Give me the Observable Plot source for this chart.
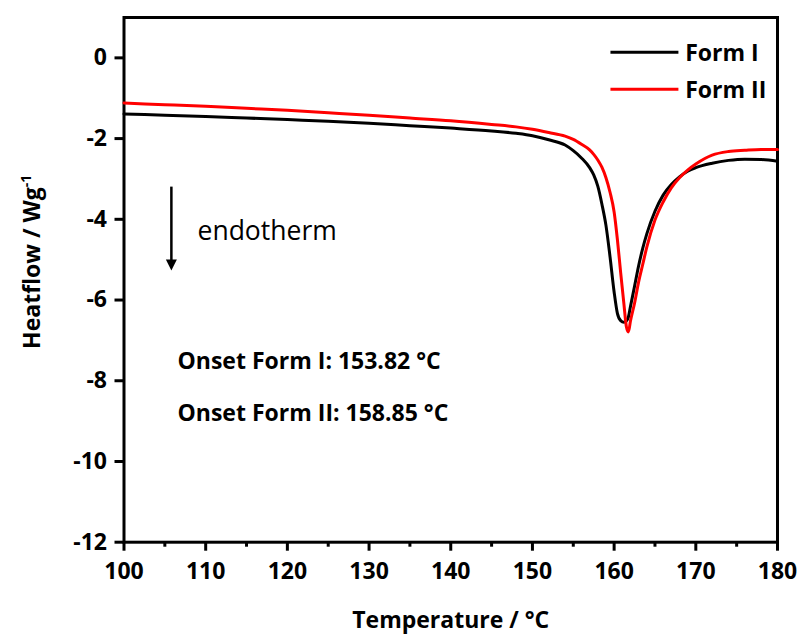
<!DOCTYPE html>
<html><head><meta charset="utf-8">
<script src="https://cdn.jsdelivr.net/npm/d3@7"></script>
<script src="https://cdn.jsdelivr.net/npm/@observablehq/plot@0.6"></script>
<style>body{margin:0;background:#fff}</style>
</head><body><div id="chart"></div>
<script>
const temperature = [100,105,110,115,120,125,130,135,140,145,148,150,152,154,155,156,157,157.5,158,158.5,159,159.5,160,160.4,160.8,161.2,161.5,161.75,162,162.5,163,163.5,164,165,166,167,168,169,170,172,174,176,178,180];
const heatflowFormI = [-1.39,-1.42,-1.45,-1.49,-1.53,-1.57,-1.62,-1.68,-1.74,-1.81,-1.87,-1.93,-2.03,-2.16,-2.30,-2.48,-2.72,-2.90,-3.18,-3.62,-4.15,-4.93,-5.80,-6.33,-6.51,-6.55,-6.52,-6.42,-6.16,-5.66,-5.15,-4.72,-4.36,-3.80,-3.40,-3.14,-2.95,-2.81,-2.72,-2.61,-2.54,-2.51,-2.52,-2.56];
const heatflowFormII = [-1.12,-1.16,-1.20,-1.25,-1.30,-1.36,-1.42,-1.49,-1.56,-1.65,-1.71,-1.77,-1.85,-1.94,-2.02,-2.14,-2.28,-2.39,-2.53,-2.71,-2.97,-3.33,-3.82,-4.50,-5.32,-6.10,-6.66,-6.79,-6.52,-6.08,-5.55,-5.12,-4.69,-4.02,-3.57,-3.22,-2.97,-2.78,-2.63,-2.41,-2.32,-2.29,-2.27,-2.27];
const seriesNames = ["Form I", "Form II"];
const seriesColors = ["#000000", "#ff0000"];
const xTicks = [100,110,120,130,140,150,160,170,180];
const xMinorTicks = [105,115,125,135,145,155,165,175];
const yTicks = [-12,-10,-8,-6,-4,-2,0];
const onsetLabels = ["Onset Form I: 153.82 °C", "Onset Form II: 158.85 °C"];
const annotationText = ["endotherm"];
const xTitle = ["Temperature / °C"];
const yTitle = ["Heatflow / Wg"];

const rows = temperature.flatMap((t, i) => [
  {t, v: heatflowFormI[i], s: seriesNames[0]},
  {t, v: heatflowFormII[i], s: seriesNames[1]}
]);

const downTriangle = {
  draw(ctx) {
    ctx.moveTo(0, 0);
    ctx.lineTo(-5.5, -11);
    ctx.lineTo(5.5, -11);
    ctx.closePath();
  }
};

const chart = Plot.plot({
  width: 802,
  height: 636,
  marginLeft: 123.5,
  marginRight: 25,
  marginTop: 17,
  marginBottom: 94.3,
  style: {fontFamily: "'Open Sans', sans-serif", fontSize: "23px", fontWeight: "bold", background: "white", color: "black"},
  x: {domain: [100, 180], label: null},
  y: {domain: [-12, 1], label: null},
  color: {domain: seriesNames, range: seriesColors},
  marks: [
    Plot.axisX({ticks: xTicks, tickSize: 9, tickPadding: 11, strokeWidth: 3, tickFormat: d => String(d), label: null}),
    Plot.axisX({ticks: xMinorTicks, tickSize: 5, strokeWidth: 3, tickFormat: () => "", label: null}),
    Plot.axisY({ticks: yTicks, tickSize: 9, tickPadding: 8, strokeWidth: 3, tickFormat: d => String(d), label: null}),
    Plot.frame({strokeWidth: 3}),
    Plot.line(rows, {x: "t", y: "v", z: "s", stroke: "s", strokeWidth: 3, curve: "monotone-x"}),
    Plot.link(seriesNames, {x1: 159.55, x2: 167.87, y1: (d, i) => 0.14 - i * 0.917, y2: (d, i) => 0.14 - i * 0.917, stroke: d => d, strokeWidth: 3}),
    Plot.text(seriesNames, {x: 168.7, y: (d, i) => 0.14 - i * 0.917, dy: 1.5, textAnchor: "start"}),
    Plot.link([0], {x1: 105.8, x2: 105.8, y1: -3.19, y2: -5.05, strokeWidth: 2.5}),
    Plot.dot([0], {x: 105.8, y: -5.27, symbol: downTriangle, fill: "black", stroke: "none"}),
    Plot.text(annotationText, {x: 109.0, y: -4.30, textAnchor: "start", fontWeight: "normal", fontSize: 26.5}),
    Plot.text(onsetLabels, {x: 106.55, y: (d, i) => -7.52 - i * 1.29, textAnchor: "start"}),
    Plot.text(xTitle, {frameAnchor: "bottom", textAnchor: "middle", lineAnchor: "middle", dy: 78}),
    Plot.text(yTitle, {frameAnchor: "left", textAnchor: "middle", lineAnchor: "middle", rotate: -90, dx: -91.5, dy: -18})
  ]
});

d3.select(chart).selectAll("text")
  .filter(function() { return this.textContent === yTitle[0]; })
  .append("tspan")
  .attr("baseline-shift", "super")
  .attr("font-size", "14px")
  .text("-1");

document.getElementById("chart").append(chart);
</script>
</body></html>
